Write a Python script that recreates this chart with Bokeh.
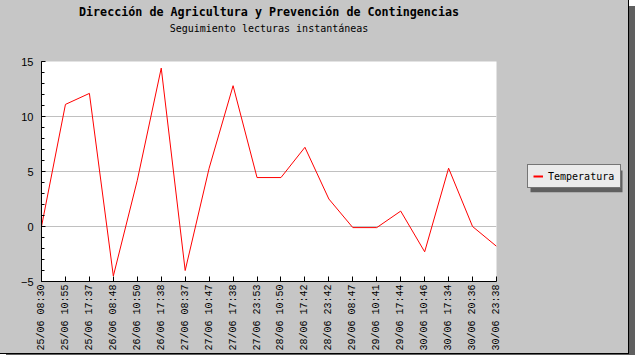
from bokeh.plotting import figure
from bokeh.layouts import row
from bokeh.models import FixedTicker, Title, Legend, LegendItem, Range1d, BoxAnnotation
from bokeh.embed import file_html
from bokeh.resources import INLINE

# ---- data ----
labels = ["25/06 08:30", "25/06 10:55", "25/06 17:37", "26/06 08:48", "26/06 10:50",
          "26/06 17:38", "27/06 08:37", "27/06 10:47", "27/06 17:38", "27/06 23:53",
          "28/06 10:50", "28/06 17:42", "28/06 23:42", "29/06 08:47", "29/06 10:41",
          "29/06 17:44", "30/06 10:46", "30/06 17:34", "30/06 20:36", "30/06 23:38"]
temperatura = [0.0, 11.1, 12.1, -4.5, 4.2, 14.4, -4.0, 5.3, 12.8, 4.45,
               4.45, 7.2, 2.5, -0.1, -0.1, 1.4, -2.3, 5.3, 0.0, -1.8]
y_ticks = [-5, 0, 5, 10, 15]
y_tick_labels = ["\u22125", "0", "5", "10", "15"]
title_text = "Dirección de Agricultura y Prevención de Contingencias"
subtitle_text = "Seguimiento lecturas instantáneas"
series_name = "Temperatura"

idx = list(range(len(labels)))

BG = "#c6c6c6"
SHADOW = "#5f5f5f"
H = 353
MAIN_W = 506
LEG_W = 122
FRAME_H = 222

p = figure(width=MAIN_W, height=H, output_backend="svg", toolbar_location=None,
           x_range=Range1d(0, len(labels) - 1), y_range=Range1d(-5, 15),
           min_border_left=41, min_border_right=10, min_border_top=61, min_border_bottom=70,
           background_fill_color="white", border_fill_color=BG,
           outline_line_color=None)

spacer = Title(text=" ", text_font="DejaVu Sans Mono", text_font_size="10px", standoff=14)
sub = Title(text=subtitle_text, align="center", text_font="DejaVu Sans Mono",
            text_font_size="10px", text_font_style="normal", text_color="black", standoff=2)
main = Title(text=title_text, align="center", text_font="DejaVu Sans Mono",
             text_font_size="11.7px", text_font_style="bold", text_color="black", standoff=2)
p.add_layout(spacer, "above")
p.add_layout(sub, "above")
p.add_layout(main, "above")

r = p.line(idx, temperatura, line_color="red", line_width=1)

# x axis
p.xaxis.ticker = FixedTicker(ticks=idx)
p.xaxis.major_label_overrides = {i: lab for i, lab in zip(idx, labels)}
p.xaxis.major_label_orientation = 1.5707963267948966
p.xaxis.major_label_text_font = "Liberation Mono"
p.xaxis.major_label_text_font_size = "10px"
p.xaxis.major_label_text_color = "black"
p.xaxis.major_label_standoff = 3
p.xaxis.major_tick_in = 5
p.xaxis.major_tick_out = 0
p.xaxis.minor_tick_line_color = None
p.xaxis.axis_line_color = "black"
p.xaxis.major_tick_line_color = "black"

# y axis
p.yaxis.ticker = FixedTicker(ticks=y_ticks, minor_ticks=list(range(-5, 16)))
p.yaxis.major_label_overrides = {t: s for t, s in zip(y_ticks, y_tick_labels)}
p.yaxis.major_label_text_font = "Liberation Sans"
p.yaxis.major_label_text_font_size = "11px"
p.yaxis.major_label_text_color = "black"
p.yaxis.major_label_standoff = 8
p.yaxis.major_tick_in = 4
p.yaxis.major_tick_out = 0
p.yaxis.minor_tick_in = 3
p.yaxis.minor_tick_out = 0
p.yaxis.axis_line_color = "black"
p.yaxis.major_tick_line_color = "black"
p.yaxis.minor_tick_line_color = "black"

p.xgrid.grid_line_color = None
p.ygrid.ticker = FixedTicker(ticks=[0, 5, 10])
p.ygrid.grid_line_color = "#c0c0c0"

# ---- legend panel (separate figure at the right, pixel-sized ranges) ----
lf = figure(width=LEG_W, height=H, output_backend="svg", toolbar_location=None,
            x_axis_type=None, y_axis_type=None, min_border=0,
            x_range=Range1d(0, LEG_W), y_range=Range1d(0, FRAME_H),
            background_fill_color=None, border_fill_color=BG, outline_line_color=None)
lf.grid.visible = False
# renderer only used for the legend swatch (kept outside the visible range)
r_leg = lf.line(x=[-50, -40], y=[-50, -40], line_color="red", line_width=2)

LX, LY, LW, LH = 21, 93, 92, 22
lf.add_layout(BoxAnnotation(left=LX + 3, right=LX + 3 + LW, bottom=LY - 3, top=LY - 3 + LH,
                            fill_color=SHADOW, fill_alpha=1.0, line_color=None))
legend = Legend(items=[LegendItem(label=series_name, renderers=[r_leg])],
                location=(LX, LY), padding=5, spacing=0, margin=0,
                glyph_width=10, glyph_height=12, label_height=12, label_width=67,
                label_standoff=5,
                label_text_font="DejaVu Sans Mono", label_text_font_size="10px",
                label_text_color="black",
                border_line_color="black", background_fill_color="#ebebeb",
                background_fill_alpha=1.0)
lf.add_layout(legend, "center")

layout = row(p, lf, spacing=0,
             styles={"box-shadow": "6px 6px 0 " + SHADOW, "border-right": "1px solid black",
                     "border-bottom": "1px solid black", "background-color": BG})

open("out.html", "w").write(file_html(layout, INLINE))
